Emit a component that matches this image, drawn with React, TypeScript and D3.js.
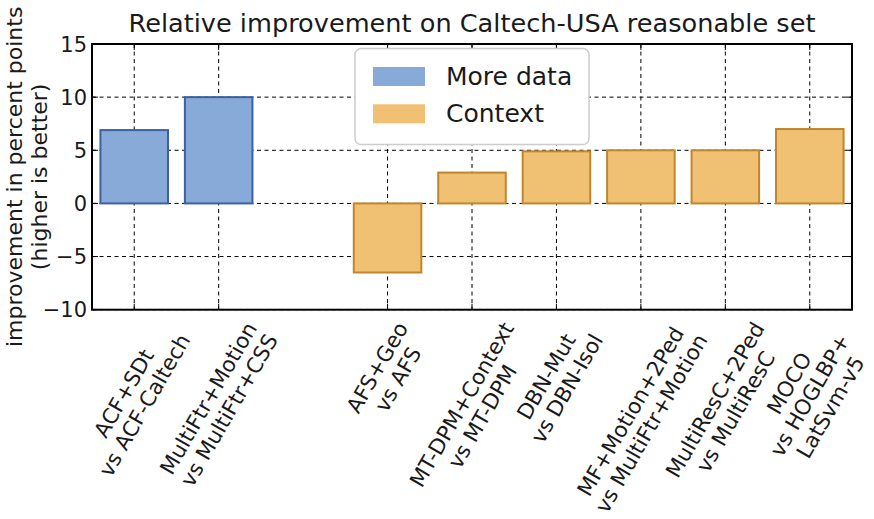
import React, { useEffect, useRef } from "react";
import * as d3 from "d3";

const categories: string[] = [
  "ACF+SDt\nvs ACF-Caltech",
  "MultiFtr+Motion\nvs MultiFtr+CSS",
  "AFS+Geo\nvs AFS",
  "MT-DPM+Context\nvs MT-DPM",
  "DBN-Mut\nvs DBN-Isol",
  "MF+Motion+2Ped\nvs MultiFtr+Motion",
  "MultiResC+2Ped\nvs MultiResC",
  "MOCO\nvs HOGLBP+\nLatSvm-v5",
];
const positions: number[] = [0, 1, 3, 4, 5, 6, 7, 8];
const values: number[] = [6.9, 10, -6.5, 2.9, 4.9, 5.0, 5.0, 7.0];
const groups: string[] = ["More data", "More data", "Context", "Context", "Context", "Context", "Context", "Context"];
const seriesNames: string[] = ["More data", "Context"];
const yTicks: number[] = [-10, -5, 0, 5, 10, 15];
const title = "Relative improvement on Caltech-USA reasonable set";
const yLabel = ["improvement in percent points", "(higher is better)"];

const W = 874, H = 519;
const L = 92, R = 852, T = 44, B = 309.7;
const FONT = "DejaVu Sans";
const fills: Record<string, string> = { "More data": "#87aad8", Context: "#f0c172" };
const strokes: Record<string, string> = { "More data": "#3d61a0", Context: "#c0862e" };

export default function App() {
  const labelsRef = useRef<SVGGElement>(null);
  const x = d3.scaleLinear().domain([-0.5, 8.5]).range([L, R]);
  const y = d3.scaleLinear().domain([-10, 15]).range([B, T]);
  const fmt = d3.format("d");

  useEffect(() => {
    const g = d3.select(labelsRef.current);
    g.selectAll("*").remove();
    const fs = 21.3;
    const lh = fs * 1.12;
    categories.forEach((c, i) => {
      const outer = g.append("g");
      const inner = outer.append("g").attr("transform", "rotate(-60)");
      const lines = c.split("\n");
      lines.forEach((ln, j) => {
        inner
          .append("text")
          .attr("x", 0)
          .attr("y", j * lh)
          .attr("text-anchor", "middle")
          .attr("font-family", FONT)
          .attr("font-size", fs)
          .attr("fill", "#1a1a1a")
          .text(ln);
      });
      const bb = (inner.node() as SVGGElement).getBBox();
      const a = (-60 * Math.PI) / 180;
      const corners = [
        [bb.x, bb.y],
        [bb.x + bb.width, bb.y],
        [bb.x, bb.y + bb.height],
        [bb.x + bb.width, bb.y + bb.height],
      ].map(([px, py]) => [px * Math.cos(a) - py * Math.sin(a), px * Math.sin(a) + py * Math.cos(a)]);
      const minX = d3.min(corners, (d) => d[0])!;
      const maxX = d3.max(corners, (d) => d[0])!;
      const minY = d3.min(corners, (d) => d[1])!;
      const tx = x(positions[i]) - (minX + maxX) / 2;
      const ty = B + 8 - minY;
      outer.attr("transform", `translate(${tx},${ty})`);
    });
  }, []);

  return (
    <svg width={W} height={H} style={{ position: "absolute", left: 0, top: 0, background: "#fff" }} fontFamily={FONT}>
      <rect x={0} y={0} width={W} height={H} fill="#fff" />
      {/* grid */}
      <g stroke="#000" strokeWidth={1} strokeDasharray="4,3.5">
        {positions.map((p, i) => (
          <line key={"gx" + i} x1={x(p)} x2={x(p)} y1={T} y2={B} />
        ))}
        {yTicks.map((t, i) => (
          <line key={"gy" + i} x1={L} x2={R} y1={y(t)} y2={y(t)} />
        ))}
      </g>
      {/* bars */}
      <g>
        {values.map((v, i) => (
          <rect
            key={"b" + i}
            x={x(positions[i] - 0.4)}
            width={x(positions[i] + 0.4) - x(positions[i] - 0.4)}
            y={y(Math.max(v, 0))}
            height={Math.abs(y(v) - y(0))}
            fill={fills[groups[i]]}
            stroke={strokes[groups[i]]}
            strokeWidth={2}
          />
        ))}
      </g>
      {/* ticks */}
      <g stroke="#000" strokeWidth={1}>
        {positions.map((p, i) => (
          <g key={"tx" + i}>
            <line x1={x(p)} x2={x(p)} y1={B} y2={B - 6} />
            <line x1={x(p)} x2={x(p)} y1={T} y2={T + 6} />
          </g>
        ))}
        {yTicks.map((t, i) => (
          <g key={"ty" + i}>
            <line x1={L} x2={L + 6} y1={y(t)} y2={y(t)} />
            <line x1={R} x2={R - 6} y1={y(t)} y2={y(t)} />
          </g>
        ))}
      </g>
      {/* frame */}
      <rect x={L} y={T} width={R - L} height={B - T} fill="none" stroke="#000" strokeWidth={2} />
      {/* y tick labels */}
      <g fontSize={21} fill="#1a1a1a" textAnchor="end">
        {yTicks.map((t, i) => (
          <text key={"yl" + i} x={L - 5} y={y(t)} dy="0.36em">
            {fmt(t)}
          </text>
        ))}
      </g>
      {/* y label */}
      <g fontSize={22} fill="#1a1a1a" textAnchor="middle">
        <text transform={`translate(22,${(T + B) / 2}) rotate(-90)`}>{yLabel[0]}</text>
        <text transform={`translate(47,${(T + B) / 2}) rotate(-90)`}>{yLabel[1]}</text>
      </g>
      {/* title */}
      <text x={(L + R) / 2} y={32} fontSize={25.6} textAnchor="middle" fill="#1a1a1a">
        {title}
      </text>
      {/* legend */}
      <g>
        <rect x={355} y={48.5} width={234} height={96} rx={6} fill="#fff" stroke="#cccccc" strokeWidth={1.5} />
        {seriesNames.map((s, i) => (
          <g key={"lg" + i}>
            <rect x={373} y={67 + i * 37.3} width={52} height={19} fill={fills[s]} />
            <text x={446} y={85 + i * 37.3} fontSize={25} fill="#1a1a1a">
              {s}
            </text>
          </g>
        ))}
      </g>
      <g ref={labelsRef} />
    </svg>
  );
}
